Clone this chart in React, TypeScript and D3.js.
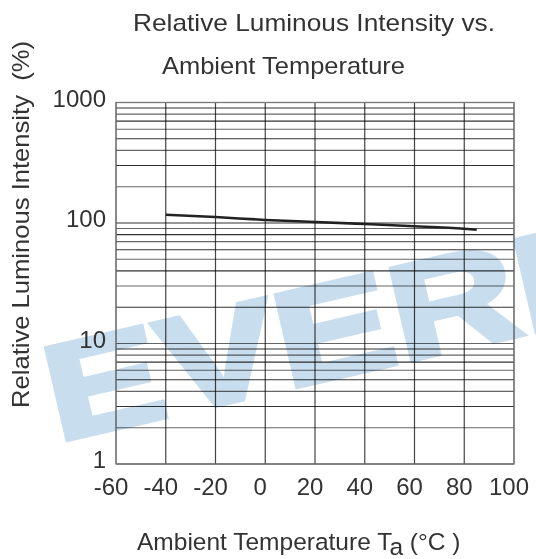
import React from 'react';
import * as d3 from 'd3';

const temps = [-40, -20, 0, 20, 40, 60, 80, 85];
const intensity = [117, 112, 106, 102, 98, 94, 89.5, 88];
const xTicks = [-60, -40, -20, 0, 20, 40, 60, 80, 100];
const yTickLabels = [1, 10, 100, 1000];
const titleLines = ['Relative Luminous Intensity vs.', 'Ambient Temperature'];
const yTitle = 'Relative Luminous Intensity  (%)';
const watermark = 'EVERL';

const W = 536;
const H = 559;
const M = { left: 116, right: 514, top: 102.5, bottom: 464 };
const FONT = "'Liberation Sans', Arial, Helvetica, sans-serif";
const TEXT = '#333';

export default function App() {
  const x = d3.scaleLinear().domain([-60, 100]).range([M.left, M.right]);
  const y = d3.scaleLog().domain([1, 1000]).range([M.bottom, M.top]);

  const hLines: number[] = [];
  for (let d = 0; d < 3; d++) {
    for (let k = 1; k <= 9; k++) hLines.push(k * Math.pow(10, d));
  }
  hLines.push(1000);

  const line = d3
    .line<number>()
    .x((_, i) => x(temps[i]))
    .y((v) => y(v))
    .curve(d3.curveMonotoneX);

  const wmX = 57;
  const wmY = 442;

  return (
    <svg
      width={W}
      height={H}
      style={{ position: 'absolute', left: 0, top: 0, background: '#fff' }}
      fontFamily={FONT}
    >
      <defs>
        <clipPath id="page">
          <rect x={0} y={0} width={W} height={H} />
        </clipPath>
      </defs>
      <rect x={0} y={0} width={W} height={H} fill="#fff" />
      {/* watermark */}
      <g clipPath="url(#page)">
        <g transform={`translate(${wmX},${wmY}) rotate(-13) scale(1.3,1)`}>
          <text
            x={0}
            y={0}
            fontSize={136}
            fontWeight="bold"
            fill="#c8ddee"
            stroke="#c8ddee"
            strokeWidth={5}
            strokeLinejoin="miter"
          >
            {watermark}
          </text>
        </g>
      </g>

      {/* grid */}
      <g>
        {hLines.map((v, i) => (
          <line
            key={'h' + i}
            x1={M.left}
            x2={M.right}
            y1={y(v)}
            y2={y(v)}
            stroke={i % 2 === 0 ? '#333' : '#666'}
            strokeWidth={1.2}
            style={{ mixBlendMode: 'multiply' }}
          />
        ))}
        {xTicks.map((t, i) => (
          <line
            key={'v' + i}
            x1={x(t)}
            x2={x(t)}
            y1={M.top}
            y2={M.bottom}
            stroke={i === 0 || i === xTicks.length - 1 ? '#777' : '#444'}
            strokeWidth={1.2}
            style={{ mixBlendMode: 'multiply' }}
          />
        ))}
        <rect
          x={M.left}
          y={M.top}
          width={M.right - M.left}
          height={M.bottom - M.top}
          fill="none"
          stroke="#777"
          strokeWidth={1.3}
        />
      </g>

      {/* data */}
      <path d={line(intensity) || ''} fill="none" stroke="#222" strokeWidth={2.6} />

      {/* y tick labels */}
      {yTickLabels.map((v) => (
        <text key={'yl' + v} x={106} y={y(v) + 4} textAnchor="end" fontSize={24} fill={TEXT}>
          {v}
        </text>
      ))}

      {/* x tick labels */}
      {xTicks.map((t) => (
        <text key={'xl' + t} x={x(t) - 5} y={495} textAnchor="middle" fontSize={24} fill={TEXT}>
          {t}
        </text>
      ))}

      {/* titles */}
      <text x={133} y={31} fontSize={24} fill={TEXT} textLength={362} lengthAdjust="spacingAndGlyphs">
        {titleLines[0]}
      </text>
      <text x={162} y={74} fontSize={24} fill={TEXT} textLength={243} lengthAdjust="spacingAndGlyphs">
        {titleLines[1]}
      </text>
      <text
        transform="translate(29,408) rotate(-90)"
        x={0}
        y={0}
        fontSize={24}
        fill={TEXT}
        textLength={367}
        lengthAdjust="spacingAndGlyphs"
        style={{ whiteSpace: 'pre' }}
      >
        {yTitle}
      </text>
      <text x={137} y={550} fontSize={24.5} fill={TEXT} style={{ whiteSpace: 'pre' }}>
        Ambient Temperature T
        <tspan dy={5}>a</tspan>
        <tspan dy={-5}>{' (°C )'}</tspan>
      </text>
    </svg>
  );
}
